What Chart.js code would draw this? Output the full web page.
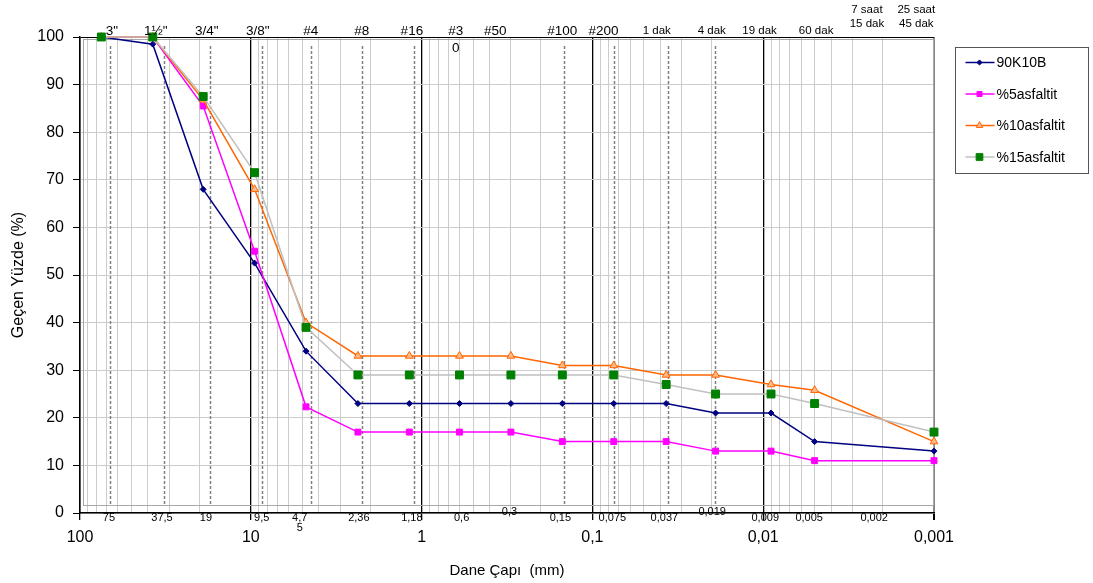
<!DOCTYPE html>
<html>
<head>
<meta charset="utf-8">
<script src="https://cdn.jsdelivr.net/npm/chart.js@4/dist/chart.umd.min.js"></script>
<style>
	html, body { margin: 0; padding: 0; background: #fff; }
	#chart-box { width: 1093px; height: 583px; }
</style>
</head>
<body>
<div id="chart-box"><canvas id="gradation"></canvas></div>
<script>
// sieve / hydrometer sizes (mm) and passing percentages
const grainSizes = [75, 37.5, 19, 9.5, 4.75, 2.36, 1.18, 0.6, 0.3, 0.15, 0.075, 0.037, 0.019, 0.009, 0.005, 0.001];
const pass90K10B = [100, 98.5, 68, 52.5, 34, 23, 23, 23, 23, 23, 23, 23, 21, 21, 15, 13];
const pass5asf = [100, 100, 85.5, 55, 22.3, 17, 17, 17, 17, 15, 15, 15, 13, 13, 11, 11];
const pass10asf = [100, 100, 86.8, 68, 40, 33, 33, 33, 33, 31, 31, 29, 29, 27, 25.8, 15];
const pass15asf = [100, 100, 87.5, 71.5, 39, 29, 29, 29, 29, 29, 29, 27, 25, 25, 23, 17];

// axis ticks
const decadeTicks = [100, 10, 1, 0.1, 0.01, 0.001];
const minorSteps = [2, 3, 4, 5, 6, 7, 8, 9];
const yTicks = [0, 10, 20, 30, 40, 50, 60, 70, 80, 90, 100];

// annotations (text), anchored at grain size values
const sieveNames = ['3"', '1½"', '3/4"', '3/8"', '#4', '#8', '#16', '#3\n0', '#50', '#100', '#200'];
const sieveNameAt = [65, 36, 18.1, 9.1, 4.46, 2.24, 1.14, 0.63, 0.37, 0.15, 0.086];
const timeNames = ['1 dak', '4 dak', '19 dak', '60 dak', '7 saat\n15 dak', '25 saat\n45 dak'];
const timeNameAt = [0.042, 0.020, 0.0105, 0.0049, 0.00247, 0.00127];
const sizeNames = ['75', '37,5', '19', '9,5', '4,7\n5', '2,36', '1,18', '0,6', '0,3', '0,15', '0,075', '0,037', '0,019', '0,009', '0,005', '0,002'];
const sizeNameAt = [67.7, 33.1, 18.3, 8.63, 5.17, 2.33, 1.14, 0.583, 0.306, 0.154, 0.0764, 0.0379, 0.0199, 0.00973, 0.00538, 0.00224];
const raisedSizeNames = ['0,3', '0,019'];
const dashedAt = [66.8, 32.3, 17.4, 8.6, 4.45, 2.22, 1.11, 0.146, 0.075, 0.036, 0.0191];

const FONT = '"Liberation Sans", Arial, sans-serif';

function isDecade(v) {
	return decadeTicks.some(d => Math.abs(d - v) / d < 1e-6);
}

function buildLogTicks() {
	const ticks = [];
	decadeTicks.forEach(d => {
		ticks.push(d);
		if (d < 100) minorSteps.forEach(m => ticks.push(d * m));
	});
	return ticks.sort((a, b) => a - b);
}

function toPoints(values) {
	return grainSizes.map((size, i) => ({ x: size, y: values[i] }));
}

function drawMarker(ctx, style, x, y, r, fill, stroke) {
	ctx.save();
	ctx.fillStyle = fill;
	ctx.strokeStyle = stroke;
	ctx.lineWidth = 1;
	ctx.beginPath();
	if (style === 'rectRot') {
		ctx.moveTo(x, y - r); ctx.lineTo(x + r, y); ctx.lineTo(x, y + r); ctx.lineTo(x - r, y); ctx.closePath();
	} else if (style === 'rect') {
		const s = r * Math.SQRT1_2;
		ctx.rect(x - s, y - s, 2 * s, 2 * s);
	} else if (style === 'triangle') {
		ctx.moveTo(x, y - r);
		ctx.lineTo(x + r * 0.866, y + r * 0.5);
		ctx.lineTo(x - r * 0.866, y + r * 0.5);
		ctx.closePath();
	}
	ctx.fill();
	ctx.stroke();
	ctx.restore();
}

const series = [
	{ label: '90K10B', data: pass90K10B, line: '#000080', fill: '#000080', stroke: '#000080', style: 'rectRot', r: 3, order: 3 },
	{ label: '%5asfaltit', data: pass5asf, line: '#FF00FF', fill: '#FF00FF', stroke: '#FF00FF', style: 'rect', r: 4.2, order: 2 },
	{ label: '%10asfaltit', data: pass10asf, line: '#FF6600', fill: '#FFB888', stroke: '#FF6600', style: 'triangle', r: 4.5, order: 1 },
	{ label: '%15asfaltit', data: pass15asf, line: '#C0C0C0', fill: '#008000', stroke: '#008000', style: 'rect', r: 5.6, order: 0 }
];

const decorPlugin = {
	id: 'gradationDecor',
	beforeDatasetsDraw(chart) {
		const { ctx, chartArea: a, scales: { x } } = chart;
		ctx.save();
		// inner frame
		ctx.strokeStyle = '#a8a8a8';
		ctx.lineWidth = 1;
		ctx.strokeRect(a.left + 3.5, a.top + 2.5, a.right - a.left - 4, a.bottom - a.top - 10);
		// dashed sieve lines
		ctx.strokeStyle = '#808080';
		ctx.lineWidth = 1.5;
		ctx.setLineDash([3, 2]);
		dashedAt.forEach(v => {
			const px = Math.round(x.getPixelForValue(v)) + 0.5;
			ctx.beginPath();
			ctx.moveTo(px, a.top + 9);
			ctx.lineTo(px, a.bottom - 7);
			ctx.stroke();
		});
		ctx.restore();
	},
	afterDraw(chart) {
		const { ctx, chartArea: a, scales: { x } } = chart;
		ctx.save();
		ctx.fillStyle = '#000';
		ctx.textAlign = 'center';
		ctx.textBaseline = 'middle';

		// sieve names above the plot
		ctx.font = '13.5px ' + FONT;
		sieveNames.forEach((name, i) => {
			const px = x.getPixelForValue(sieveNameAt[i]);
			name.split('\n').forEach((line, j) => ctx.fillText(line, px, a.top - 6 + j * 17));
		});

		// hydrometer times
		ctx.font = '11.5px ' + FONT;
		timeNames.forEach((name, i) => {
			const px = x.getPixelForValue(timeNameAt[i]);
			const lines = name.split('\n');
			if (lines.length === 1) {
				ctx.fillText(lines[0], px, a.top - 6);
			} else {
				lines.forEach((line, j) => ctx.fillText(line, px, a.top - 27 + j * 14));
			}
		});

		// grain sizes under the axis
		ctx.font = '11px ' + FONT;
		sizeNames.forEach((name, i) => {
			const px = x.getPixelForValue(sizeNameAt[i]);
			const y0 = raisedSizeNames.includes(name) ? a.bottom - 1 : a.bottom + 5;
			name.split('\n').forEach((line, j) => ctx.fillText(line, px, y0 + j * 10));
		});

		// legend
		const box = { left: 955.5, top: 47.5, width: 133, height: 126 };
		ctx.strokeStyle = '#555';
		ctx.lineWidth = 1;
		ctx.strokeRect(box.left, box.top, box.width, box.height);
		ctx.font = '14px ' + FONT;
		ctx.textAlign = 'left';
		series.forEach((s, i) => {
			const cy = box.top + 15 + i * 31.5;
			ctx.strokeStyle = s.line;
			ctx.lineWidth = 1.5;
			ctx.beginPath();
			ctx.moveTo(box.left + 10, cy);
			ctx.lineTo(box.left + 39, cy);
			ctx.stroke();
			drawMarker(ctx, s.style, box.left + 24, cy, s.r * 0.85, s.fill, s.stroke);
			ctx.fillStyle = '#000';
			ctx.fillText(s.label, box.left + 41, cy + 1);
		});
		ctx.restore();
	}
};

new Chart(document.getElementById('gradation'), {
	type: 'line',
	data: {
		datasets: series.map(s => ({
			label: s.label,
			data: toPoints(s.data),
			borderColor: s.line,
			borderWidth: 1.5,
			pointStyle: s.style,
			pointRadius: s.r,
			pointBackgroundColor: s.fill,
			pointBorderColor: s.stroke,
			pointBorderWidth: 1,
			tension: 0,
			order: s.order,
			clip: false
		}))
	},
	options: {
		responsive: true,
		maintainAspectRatio: false,
		animation: false,
		devicePixelRatio: 1,
		layout: { padding: { top: 37, right: 159, left: 0, bottom: 0 } },
		plugins: {
			legend: { display: false },
			tooltip: { enabled: false }
		},
		scales: {
			x: {
				type: 'logarithmic',
				reverse: true,
				min: 0.001,
				max: 100,
				afterFit: scale => { scale.height = 70; },
				afterBuildTicks: scale => {
					scale.ticks = buildLogTicks().map(v => ({ value: v }));
				},
				border: { color: '#000', width: 1.5 },
				grid: {
					color: c => {
						if (!c.tick) return '#cccccc';
						if (c.tick.value === 0.001) return '#888';
						return isDecade(c.tick.value) ? '#000' : '#cccccc';
					},
					lineWidth: c => (c.tick && c.tick.value === 0.001 ? 2 : (c.tick && isDecade(c.tick.value) ? 1.3 : 1)),
					tickColor: c => (c.tick && isDecade(c.tick.value) ? '#000' : 'rgba(0,0,0,0)'),
					tickLength: 7
				},
				ticks: {
					autoSkip: false,
					maxRotation: 0,
					padding: 8,
					color: '#000',
					font: { family: FONT, size: 16 },
					callback: value => (isDecade(value) ? String(value).replace('.', ',') : '')
				},
				title: {
					display: true,
					text: 'Dane Çapı  (mm)',
					color: '#000',
					font: { family: FONT, size: 15 },
					padding: { top: 0, bottom: 3 }
				}
			},
			y: {
				min: 0,
				max: 100,
				afterFit: scale => { scale.width = 80; },
				afterBuildTicks: scale => {
					scale.ticks = yTicks.map(v => ({ value: v }));
				},
				border: { color: '#000', width: 1.5 },
				grid: {
					color: c => (c.tick && c.tick.value === 100 ? '#000' : '#cccccc'),
					tickColor: '#000',
					tickLength: 7
				},
				ticks: {
					padding: 9,
					color: '#000',
					font: { family: FONT, size: 16 }
				},
				title: {
					display: true,
					text: 'Geçen Yüzde (%)',
					color: '#000',
					font: { family: FONT, size: 16 },
					padding: { top: 9, bottom: 0 }
				}
			}
		}
	},
	plugins: [decorPlugin]
});
</script>
</body>
</html>
